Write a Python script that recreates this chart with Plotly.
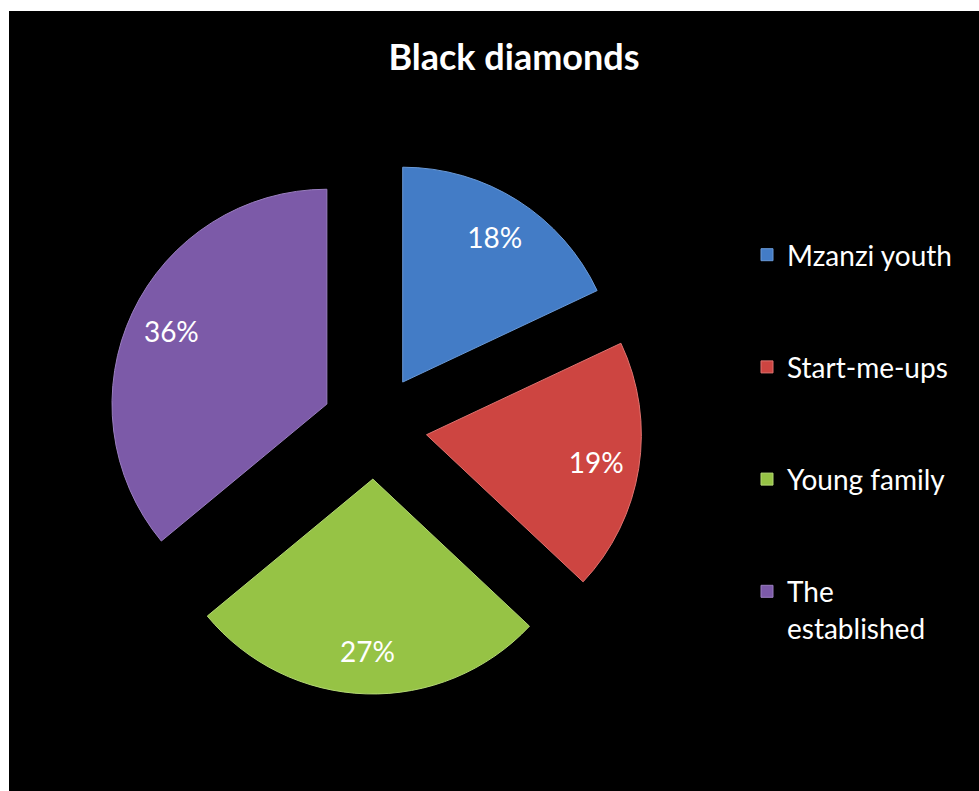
import plotly.graph_objects as go

labels = ["Mzanzi youth", "Start-me-ups", "Young family", "The<br>established"]
values = [18, 19, 27, 36]
colors = ["#437CC6", "#CD4541", "#96C345", "#7C5AA8"]
line_colors = ["#6A9AD8", "#E07370", "#B4D874", "#9A7FC0"]

W, H = 979, 791
domain = dict(x=[107 / W, 642 / W], y=[1 - 694 / H, 1 - 159 / H])
pull = [0.245] * len(values)

fig = go.Figure()
# visible slices (no text)
fig.add_trace(go.Pie(
    labels=[l + "<br> <br> " if i < len(labels) - 1 else l for i, l in enumerate(labels)],
    values=values,
    sort=False,
    direction="clockwise",
    rotation=0,
    pull=pull,
    marker=dict(colors=colors, line=dict(color=line_colors, width=1)),
    textinfo="none",
    domain=domain,
    hoverinfo="skip",
))
# transparent ring that carries the percentage labels further out
fig.add_trace(go.Pie(
    labels=[l + "<br> <br> " if i < len(labels) - 1 else l for i, l in enumerate(labels)],
    values=values,
    sort=False,
    direction="clockwise",
    rotation=0,
    pull=pull,
    hole=0.6,
    marker=dict(colors=["rgba(0,0,0,0)"] * len(values), line=dict(width=0)),
    texttemplate="%{percent:.0%}",
    textposition="inside",
    insidetextorientation="horizontal",
    textfont=dict(family="Lato, sans-serif", size=28, color="white"),
    domain=domain,
    showlegend=False,
    hoverinfo="label+percent",
))

fig.add_shape(type="rect", xref="paper", yref="paper",
              x0=9 / W, x1=1.01, y0=-0.01, y1=1 - 11 / H,
              fillcolor="black", line=dict(width=0), layer="below")

fig.update_layout(
    width=W, height=H,
    margin=dict(l=0, r=0, t=0, b=0),
    paper_bgcolor="white",
    plot_bgcolor="black",
    title=dict(text="<b>Black diamonds</b>", x=514 / W, xanchor="center",
               y=1 - 57 / H, yanchor="middle", yref="container",
               font=dict(family="Lato, sans-serif", size=36, color="white")),
    legend=dict(x=747 / W, xanchor="left", y=1 - 230 / H, yanchor="top",
                font=dict(family="Lato, sans-serif", size=28, color="white"),
                valign="top", bgcolor="rgba(0,0,0,0)", traceorder="normal"),
    showlegend=True,
)

fig.write_html("out.html")
